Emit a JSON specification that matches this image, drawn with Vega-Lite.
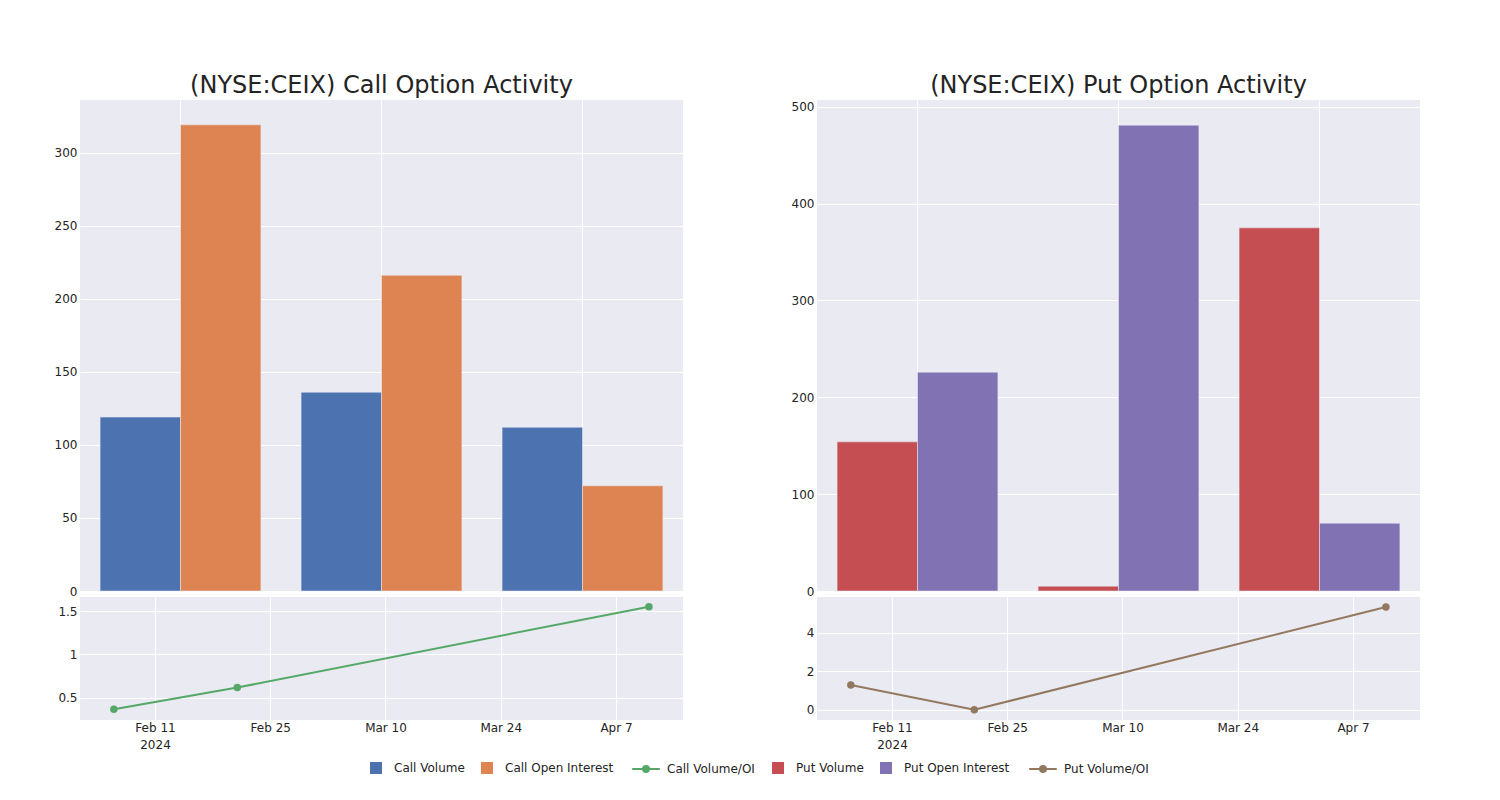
{
  "$schema": "https://vega.github.io/schema/vega-lite/v6.json",
  "background": "white",
  "padding": {"left": 54, "top": 74, "right": 0, "bottom": 0},
  "config": {
    "font": "DejaVu Sans",
    "view": {"fill": "#eaeaf2", "stroke": null},
    "axis": {"gridColor": "white", "gridWidth": 1, "labelColor": "#242424", "labelFontSize": 12, "labelFont": "DejaVu Sans", "ticks": false, "domain": false, "title": null, "labelPadding": 3},
    "title": {"font": "DejaVu Sans", "fontSize": 24, "fontWeight": "normal", "color": "#242424", "anchor": "middle", "offset": 2}
  },
  "data": {"values": [
    {"date": "2024-02-06", "series": "Call Volume", "value": 119},
    {"date": "2024-02-06", "series": "Call Open Interest", "value": 319},
    {"date": "2024-02-21", "series": "Call Volume", "value": 136},
    {"date": "2024-02-21", "series": "Call Open Interest", "value": 216},
    {"date": "2024-04-11", "series": "Call Volume", "value": 112},
    {"date": "2024-04-11", "series": "Call Open Interest", "value": 72},
    {"date": "2024-02-06", "series": "Call Volume/OI", "value": 0.37},
    {"date": "2024-02-21", "series": "Call Volume/OI", "value": 0.62},
    {"date": "2024-04-11", "series": "Call Volume/OI", "value": 1.55},
    {"date": "2024-02-06", "series": "Put Volume", "value": 154},
    {"date": "2024-02-06", "series": "Put Open Interest", "value": 226},
    {"date": "2024-02-21", "series": "Put Volume", "value": 5},
    {"date": "2024-02-21", "series": "Put Open Interest", "value": 481},
    {"date": "2024-04-11", "series": "Put Volume", "value": 375},
    {"date": "2024-04-11", "series": "Put Open Interest", "value": 70},
    {"date": "2024-02-06", "series": "Put Volume/OI", "value": 1.3},
    {"date": "2024-02-21", "series": "Put Volume/OI", "value": 0.01},
    {"date": "2024-04-11", "series": "Put Volume/OI", "value": 5.35}
  ]},
  "spacing": 17,
  "resolve": {"scale": {"color": "independent", "stroke": "independent", "x": "independent", "y": "independent", "xOffset": "independent"}, "legend": {"color": "independent", "stroke": "independent"}},
  "hconcat": [
    {
      "spacing": 6,
      "bounds": "flush",
      "resolve": {"scale": {"color": "independent", "stroke": "independent", "x": "independent", "y": "independent", "xOffset": "independent"}, "legend": {"color": "independent", "stroke": "independent"}},
      "vconcat": [
        {
          "width": 603, "height": 491,
          "title": {"text": "(NYSE:CEIX) Call Option Activity"},
          "transform": [{"filter": "datum.series == 'Call Volume' || datum.series == 'Call Open Interest'"}],
          "mark": {"type": "bar", "stroke": "#eaeaf2", "strokeWidth": 0.5},
          "encoding": {
            "x": {"field": "date", "type": "ordinal", "scale": {"paddingInner": 0.2, "paddingOuter": 0.1}, "axis": {"labels": false, "ticks": false, "domain": false, "title": null, "grid": true, "minExtent": 0, "maxExtent": 0}},
            "xOffset": {"field": "series", "type": "nominal", "sort": ["Call Volume", "Call Open Interest"], "scale": {"paddingInner": 0, "paddingOuter": 0}},
            "y": {"field": "value", "type": "quantitative", "scale": {"domain": [0, 336], "nice": false, "zero": false}, "axis": {"values": [0, 50, 100, 150, 200, 250, 300]}},
            "color": {"field": "series", "type": "nominal",
              "scale": {"domain": ["Call Volume", "Call Open Interest"], "range": ["#4c72b0", "#dd8452"]},
              "legend": {"orient": "none", "legendX": 290, "legendY": 662, "direction": "horizontal", "title": null, "padding": 0,
                "symbolType": "square", "symbolSize": 144, "symbolStrokeWidth": 0, "symbolOpacity": 1, "labelOffset": 12, "columnPadding": 16, "labelFontSize": 12, "labelFont": "DejaVu Sans", "labelColor": "#242424"}
            }
          }
        },
        {
          "width": 603, "height": 123,
          "transform": [{"filter": "datum.series == 'Call Volume/OI'"}],
          "mark": {"type": "line", "strokeWidth": 2, "point": {"filled": true, "fill": "#55a868", "size": 30}},
          "encoding": {
            "x": {"field": "date", "type": "temporal",
              "scale": {"type": "utc", "nice": false, "domain": [{"year": 2024, "month": 2, "date": 1, "hours": 21, "minutes": 22, "utc": true}, {"year": 2024, "month": 4, "date": 15, "hours": 3, "minutes": 20, "utc": true}]},
              "axis": {"values": [{"year": 2024, "month": 2, "date": 11, "utc": true}, {"year": 2024, "month": 2, "date": 25, "utc": true}, {"year": 2024, "month": 3, "date": 10, "utc": true}, {"year": 2024, "month": 3, "date": 24, "utc": true}, {"year": 2024, "month": 4, "date": 7, "utc": true}],
                "labelExpr": "utcFormat(datum.value, '%b %-d') == 'Feb 11' ? ['Feb 11', '2024'] : utcFormat(datum.value, '%b %-d')", "labelPadding": 2, "labelLineHeight": 17, "grid": true}},
            "y": {"field": "value", "type": "quantitative", "scale": {"domain": [0.247, 1.661], "nice": false, "zero": false}, "axis": {"values": [0.5, 1, 1.5], "format": ".1~f"}},
            "stroke": {"field": "series", "type": "nominal",
              "scale": {"domain": ["Call Volume/OI"], "range": ["#55a868"]},
              "legend": {"orient": "none", "legendX": 559, "legendY": 165, "direction": "horizontal", "title": null, "padding": 0,
                "symbolType": "M-2.3,0H2.3M-0.5,0A0.5,0.5 0 1,1 0.5,0A0.5,0.5 0 1,1 -0.5,0Z", "symbolSize": 144, "symbolStrokeWidth": 2, "symbolFillColor": "#55a868", "symbolOpacity": 1,
                "labelOffset": 14, "labelFontSize": 12, "labelFont": "DejaVu Sans", "labelColor": "#242424"}}
          }
        }
      ]
    },
    {
      "spacing": 6,
      "bounds": "flush",
      "resolve": {"scale": {"color": "independent", "stroke": "independent", "x": "independent", "y": "independent", "xOffset": "independent"}, "legend": {"color": "independent", "stroke": "independent"}},
      "vconcat": [
        {
          "width": 603, "height": 491,
          "title": {"text": "(NYSE:CEIX) Put Option Activity"},
          "transform": [{"filter": "datum.series == 'Put Volume' || datum.series == 'Put Open Interest'"}],
          "mark": {"type": "bar", "stroke": "#eaeaf2", "strokeWidth": 0.5},
          "encoding": {
            "x": {"field": "date", "type": "ordinal", "scale": {"paddingInner": 0.2, "paddingOuter": 0.1}, "axis": {"labels": false, "ticks": false, "domain": false, "title": null, "grid": true, "minExtent": 0, "maxExtent": 0}},
            "xOffset": {"field": "series", "type": "nominal", "sort": ["Put Volume", "Put Open Interest"], "scale": {"paddingInner": 0, "paddingOuter": 0}},
            "y": {"field": "value", "type": "quantitative", "scale": {"domain": [0, 507], "nice": false, "zero": false}, "axis": {"values": [0, 100, 200, 300, 400, 500]}},
            "color": {"field": "series", "type": "nominal",
              "scale": {"domain": ["Put Volume", "Put Open Interest"], "range": ["#c44e52", "#8172b3"]},
              "legend": {"orient": "none", "legendX": -45, "legendY": 662, "direction": "horizontal", "title": null, "padding": 0,
                "symbolType": "square", "symbolSize": 144, "symbolStrokeWidth": 0, "symbolOpacity": 1, "labelOffset": 12, "columnPadding": 16, "labelFontSize": 12, "labelFont": "DejaVu Sans", "labelColor": "#242424"}
            }
          }
        },
        {
          "width": 603, "height": 123,
          "transform": [{"filter": "datum.series == 'Put Volume/OI'"}],
          "mark": {"type": "line", "strokeWidth": 2, "point": {"filled": true, "fill": "#937860", "size": 30}},
          "encoding": {
            "x": {"field": "date", "type": "temporal",
              "scale": {"type": "utc", "nice": false, "domain": [{"year": 2024, "month": 2, "date": 1, "hours": 21, "minutes": 22, "utc": true}, {"year": 2024, "month": 4, "date": 15, "hours": 3, "minutes": 20, "utc": true}]},
              "axis": {"values": [{"year": 2024, "month": 2, "date": 11, "utc": true}, {"year": 2024, "month": 2, "date": 25, "utc": true}, {"year": 2024, "month": 3, "date": 10, "utc": true}, {"year": 2024, "month": 3, "date": 24, "utc": true}, {"year": 2024, "month": 4, "date": 7, "utc": true}],
                "labelExpr": "utcFormat(datum.value, '%b %-d') == 'Feb 11' ? ['Feb 11', '2024'] : utcFormat(datum.value, '%b %-d')", "labelPadding": 2, "labelLineHeight": 17, "grid": true}},
            "y": {"field": "value", "type": "quantitative", "scale": {"domain": [-0.52, 5.87], "nice": false, "zero": false}, "axis": {"values": [0, 2, 4]}},
            "stroke": {"field": "series", "type": "nominal",
              "scale": {"domain": ["Put Volume/OI"], "range": ["#937860"]},
              "legend": {"orient": "none", "legendX": 219, "legendY": 165, "direction": "horizontal", "title": null, "padding": 0,
                "symbolType": "M-2.3,0H2.3M-0.5,0A0.5,0.5 0 1,1 0.5,0A0.5,0.5 0 1,1 -0.5,0Z", "symbolSize": 144, "symbolStrokeWidth": 2, "symbolFillColor": "#937860", "symbolOpacity": 1,
                "labelOffset": 14, "labelFontSize": 12, "labelFont": "DejaVu Sans", "labelColor": "#242424"}}
          }
        }
      ]
    }
  ]
}
